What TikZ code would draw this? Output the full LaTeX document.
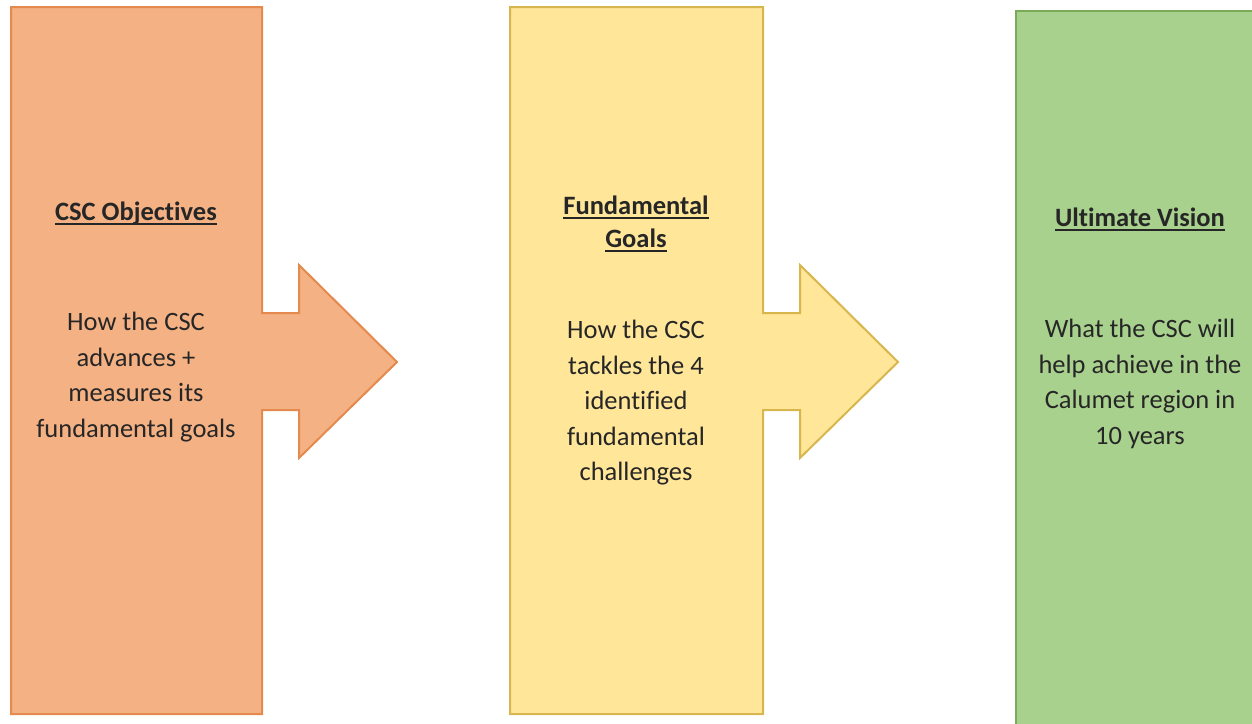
\documentclass[tikz,border=0pt]{standalone}
\usepackage{fontspec}
\setmainfont[Ligatures={NoCommon}]{Carlito}
\definecolor{orfill}{HTML}{F4B183}
\definecolor{ordraw}{HTML}{E58A4E}
\definecolor{yefill}{HTML}{FFE699}
\definecolor{yedraw}{HTML}{D8B64E}
\definecolor{grfill}{HTML}{A9D18E}
\definecolor{grdraw}{HTML}{78AC58}
\definecolor{txt}{HTML}{262626}
\newcommand\myul[1]{\setbox0\hbox{#1}\leavevmode\rlap{\rule[-4.5pt]{\wd0}{1.8pt}}\box0}
\begin{document}
\begin{tikzpicture}[x=1pt,y=-1pt,
  shapebox/.style={line width=2pt,line join=miter},
  label/.style={text=txt,align=center,inner sep=0pt,font=\fontsize{26.5}{35.5}\selectfont},
  title/.style={label,font=\fontsize{26.5}{33}\selectfont\bfseries}]
\useasboundingbox (0,0) rectangle (1252,723);
% orange arrow box
\draw[shapebox,fill=orfill,draw=ordraw] (11,7) -- (262,7) -- (262,313) -- (299,313) -- (299,265)
  -- (397,362) -- (299,458) -- (299,410) -- (262,410) -- (262,714) -- (11,714) -- cycle;
% yellow arrow box
\draw[shapebox,fill=yefill,draw=yedraw] (510,7) -- (763,7) -- (763,313) -- (800,313) -- (800,265)
  -- (898,362) -- (800,458) -- (800,410) -- (763,410) -- (763,714) -- (510,714) -- cycle;
% green box
\draw[shapebox,fill=grfill,draw=grdraw] (1016,11) rectangle (1262,733);
% texts
\node[title] (t1) at (136,213) {\myul{CSC Objectives}};
\node[label] (b1) at (136,377) {How the CSC\\advances +\\measures its\\fundamental goals};
\node[title] (t2) at (636,224) {\myul{Fundamental}\\\myul{Goals}};
\node[label] (b2) at (636,403) {How the CSC\\tackles the 4\\identified\\fundamental\\challenges};
\node[title] (t3) at (1140,219) {\myul{Ultimate Vision}};
\node[label] (b3) at (1140,384) {What the CSC will\\help achieve in the\\Calumet region in\\10 years};
\end{tikzpicture}
\end{document}
